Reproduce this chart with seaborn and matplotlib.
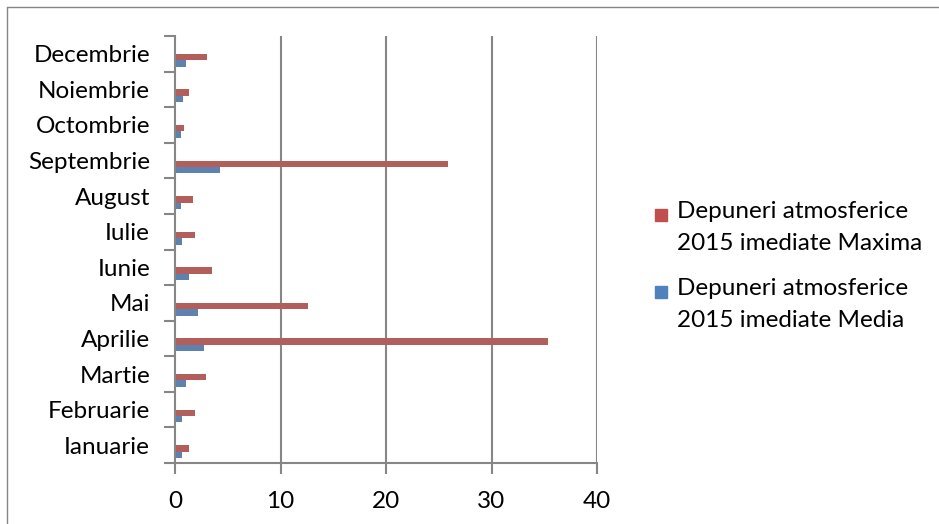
import matplotlib
matplotlib.use("Agg")
import matplotlib.pyplot as plt
import seaborn as sns
import pandas as pd
from matplotlib.patches import Rectangle
from matplotlib.lines import Line2D

months = ["Ianuarie", "Februarie", "Martie", "Aprilie", "Mai", "Iunie",
          "Iulie", "August", "Septembrie", "Octombrie", "Noiembrie", "Decembrie"]
maxima = [1.35, 1.9, 2.9, 35.4, 12.6, 3.5, 1.9, 1.7, 25.9, 0.9, 1.35, 3.0]
media = [0.7, 0.65, 1.0, 2.75, 2.2, 1.3, 0.65, 0.55, 4.25, 0.55, 0.8, 1.0]
series_max = "Depuneri atmosferice\n2015 imediate Maxima"
series_med = "Depuneri atmosferice\n2015 imediate Media"
xticks = [0, 10, 20, 30, 40]

RED = "#C0504D"
BLUE = "#4F81BD"
GRAY = "#868686"

sns.set_theme(style="white")
plt.rcParams["font.family"] = ["Lato", "DejaVu Sans"]
FS = 17.5

rows = []
for m, a, b in zip(months, maxima, media):
    rows.append({"luna": m, "serie": "_e1", "val": 0.0})
    rows.append({"luna": m, "serie": "_e2", "val": 0.0})
    rows.append({"luna": m, "serie": series_max, "val": a})
    rows.append({"luna": m, "serie": series_med, "val": b})
df = pd.DataFrame(rows)

fig = plt.figure(figsize=(9.39, 5.24), dpi=100)
W, H = 939, 524
ax = fig.add_axes([175 / W, (H - 463) / H, (597 - 175) / W, (463 - 36) / H])

order = months[::-1]
sns.barplot(data=df, y="luna", x="val", hue="serie", order=order,
            hue_order=["_e1", "_e2", series_max, series_med],
            palette={"_e1": "white", "_e2": "white", series_max: RED, series_med: BLUE},
            orient="h", width=0.72, errorbar=None, linewidth=0, ax=ax, legend=False)

ax.set_xlim(0, 40)
ax.set_ylim(len(months) - 0.5, -0.5)
ax.set_xticks(xticks)
ax.set_xticklabels([str(t) for t in xticks], fontsize=FS, color="black")
ax.set_yticks(range(len(order)))
ax.set_yticklabels(order, fontsize=FS, color="black")
ax.set_yticks([i - 0.5 for i in range(len(order) + 1)], minor=True)
ax.tick_params(axis="y", which="major", length=0, pad=18)
ax.tick_params(axis="y", which="minor", length=8, width=1.5, color=GRAY, left=True)
ax.tick_params(axis="x", which="major", length=8, width=1.5, color=GRAY, pad=12, bottom=True)
ax.set_xlabel("")
ax.set_ylabel("")

for t in xticks[1:]:
    ax.axvline(t, color=GRAY, lw=1.5, zorder=0)
for s in ["top", "right"]:
    ax.spines[s].set_visible(False)
for s in ["left", "bottom"]:
    ax.spines[s].set_color(GRAY)
    ax.spines[s].set_linewidth(1.5)

# legend (manual, Excel-like)
for i, (lab, col) in enumerate([(series_max, RED), (series_med, BLUE)]):
    ytop = 215 + i * 77
    fig.patches.append(Rectangle((655 / W, (H - ytop - 6) / H), 12 / W, 12 / H,
                                 transform=fig.transFigure, color=col))
    fig.text(677 / W, (H - ytop + 14) / H, lab, fontsize=FS, va="top", ha="left",
             linespacing=1.65, color="black")

# outer chart border
fig.lines.append(Line2D([7 / W, 7 / W], [0, (H - 7) / H], transform=fig.transFigure, color=GRAY, lw=1))
fig.lines.append(Line2D([7 / W, 1], [(H - 7) / H, (H - 7) / H], transform=fig.transFigure, color=GRAY, lw=1))

fig.savefig("out.png", dpi=100)
